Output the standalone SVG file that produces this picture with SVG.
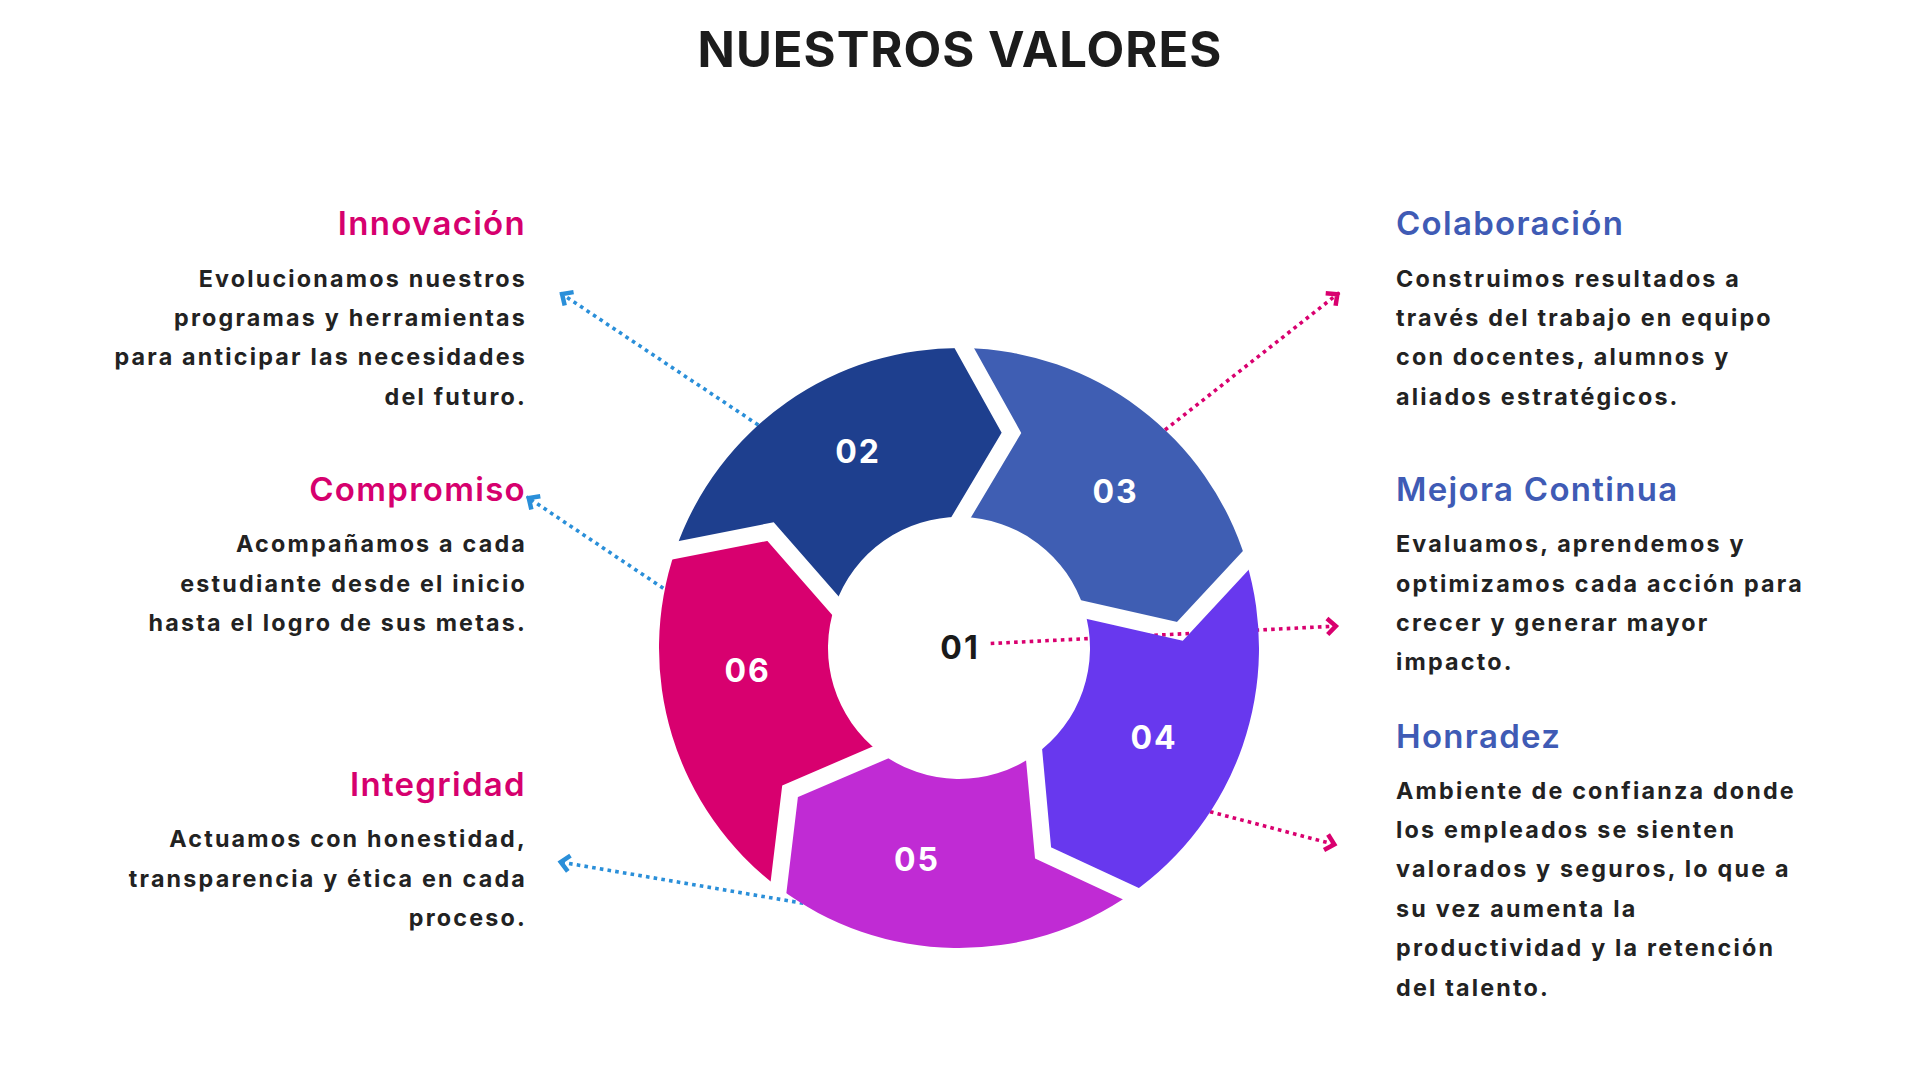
<svg xmlns="http://www.w3.org/2000/svg" width="1920" height="1080" viewBox="0 0 1920 1080">
<defs>
<style>
.t{font-family:Inter,"Noto Sans","Liberation Sans",sans-serif}
.title{font-size:49px;font-weight:700;fill:#1c1c1c;letter-spacing:1px}
.h{font-size:33px;font-weight:600;letter-spacing:1.3px}
.b{font-size:23.3px;font-weight:700;fill:#222222;letter-spacing:2.2px}
.pk{fill:#D6006E}
.bl{fill:#3F5BB5}
.end{text-anchor:end}
.n{font-size:32px;font-weight:700;fill:#ffffff;text-anchor:middle;letter-spacing:2px}
.c{fill:none;stroke-width:3.6;stroke-dasharray:3.6 4.2}
.cb{stroke:#2A8FD9;marker-end:url(#ab)}
.cp{stroke:#D9006F;marker-end:url(#ap)}
.ah{fill:none;stroke-width:4.5;stroke-linejoin:miter;stroke-linecap:butt}
</style>
<marker id="ab" markerUnits="userSpaceOnUse" viewBox="-15 -15 30 30" markerWidth="30" markerHeight="30" refX="0" refY="0" orient="auto">
<path class="ah" stroke="#2A8FD9" d="M-11,-8 L-2.5,0 L-11,8"/>
</marker>
<marker id="ap" markerUnits="userSpaceOnUse" viewBox="-15 -15 30 30" markerWidth="30" markerHeight="30" refX="0" refY="0" orient="auto">
<path class="ah" stroke="#D9006F" d="M-11,-8 L-2.5,0 L-11,8"/>
</marker>
<mask id="gap" maskUnits="userSpaceOnUse" x="0" y="0" width="1920" height="1080">
<rect x="0" y="0" width="1920" height="1080" fill="#ffffff"/>
<g fill="none" stroke="#000000" stroke-width="17" stroke-linejoin="miter" stroke-miterlimit="10">
<polyline points="651.55,555.0 770.55,531.6 860.98,634.85"/>
<polyline points="952.44,326.87 1011.45,432.79 941.23,550.71"/>
<polyline points="1262.39,542.52 1179.88,631.39 1046.04,601.02"/>
<polyline points="1153.07,903.96 1043.06,852.93 1030.57,716.26"/>
<polyline points="775.56,911.67 790.06,791.27 916.2,737.16"/>
</g>
</mask>
</defs>
<rect x="0" y="0" width="1920" height="1080" fill="#ffffff"/>
<text class="t title" x="960" y="66.7" text-anchor="middle">NUESTROS VALORES</text>

<g id="connectors">
<line class="c cb" x1="758.3" y1="425" x2="560" y2="292.7"/>
<line class="c cb" x1="663.3" y1="588.3" x2="526.7" y2="496.7"/>
<line class="c cb" x1="803.3" y1="903.3" x2="558.3" y2="861.7"/>
<line class="c cp" x1="1165" y1="430" x2="1339.3" y2="292.7"/>
<line class="c cp" x1="990.7" y1="643.5" x2="1338.3" y2="626"/>
<line class="c cp" x1="1210" y1="811.7" x2="1336.7" y2="845"/>
</g>

<g id="node-02">
<path mask="url(#gap)" fill="#1E3F8E" d="M675.35,550.32 A300,300 0 0 1 964.24,348.05 L1011.45,432.79 L961.29,517.02 A131,131 0 0 0 835.14,605.35 L770.55,531.6 Z"/>
<text class="t n" x="858" y="463.3">02</text>
</g>
<g id="node-03">
<path mask="url(#gap)" fill="#3F5EB3" d="M964.24,348.05 A300,300 0 0 1 1245.89,560.29 L1179.88,631.39 L1084.28,609.7 A131,131 0 0 0 961.29,517.02 L1011.45,432.79 Z"/>
<text class="t n" x="1115.5" y="502.7">03</text>
</g>
<g id="node-04">
<path mask="url(#gap)" fill="#6838EE" d="M1245.89,560.29 A300,300 0 0 1 1131.07,893.75 L1043.06,852.93 L1034.14,755.31 A131,131 0 0 0 1084.28,609.7 L1179.88,631.39 Z"/>
<text class="t n" x="1154" y="749.3">04</text>
</g>
<g id="node-05">
<path mask="url(#gap)" fill="#C02BD4" d="M1131.07,893.75 A300,300 0 0 1 778.46,887.59 L790.06,791.27 L880.16,752.62 A131,131 0 0 0 1034.14,755.31 L1043.06,852.93 Z"/>
<text class="t n" x="917" y="870.7">05</text>
</g>
<g id="node-06">
<path mask="url(#gap)" fill="#D8006F" d="M778.46,887.59 A300,300 0 0 1 675.35,550.32 L770.55,531.6 L835.14,605.35 A131,131 0 0 0 880.16,752.62 L790.06,791.27 Z"/>
<text class="t n" x="747.7" y="681.7">06</text>
</g>
<g id="node-01">
<text class="t n" x="960" y="658.5" style="fill:#1a1a1a">01</text>
</g>

<g id="innovacion">
<text class="t h pk end" x="526" y="235">Innovación</text>
<text class="t b end" x="527" y="286.7">Evolucionamos nuestros</text>
<text class="t b end" x="527" y="326">programas y herramientas</text>
<text class="t b end" x="527" y="365.3">para anticipar las necesidades</text>
<text class="t b end" x="527" y="404.6">del futuro.</text>
</g>
<g id="compromiso">
<text class="t h pk end" x="526" y="500.7">Compromiso</text>
<text class="t b end" x="527" y="552.4">Acompañamos a cada</text>
<text class="t b end" x="527" y="591.7">estudiante desde el inicio</text>
<text class="t b end" x="527" y="631">hasta el logro de sus metas.</text>
</g>
<g id="integridad">
<text class="t h pk end" x="526" y="795.8">Integridad</text>
<text class="t b end" x="527" y="847.4">Actuamos con honestidad,</text>
<text class="t b end" x="527" y="886.7">transparencia y ética en cada</text>
<text class="t b end" x="527" y="926">proceso.</text>
</g>
<g id="colaboracion">
<text class="t h bl" x="1396" y="235">Colaboración</text>
<text class="t b" x="1396" y="286.7">Construimos resultados a</text>
<text class="t b" x="1396" y="326">través del trabajo en equipo</text>
<text class="t b" x="1396" y="365.3">con docentes, alumnos y</text>
<text class="t b" x="1396" y="404.6">aliados estratégicos.</text>
</g>
<g id="mejora-continua">
<text class="t h bl" x="1396" y="500.7">Mejora Continua</text>
<text class="t b" x="1396" y="552.4">Evaluamos, aprendemos y</text>
<text class="t b" x="1396" y="591.7">optimizamos cada acción para</text>
<text class="t b" x="1396" y="631">crecer y generar mayor</text>
<text class="t b" x="1396" y="670.3">impacto.</text>
</g>
<g id="honradez">
<text class="t h bl" x="1396" y="748">Honradez</text>
<text class="t b" x="1396" y="798.6">Ambiente de confianza donde</text>
<text class="t b" x="1396" y="838">los empleados se sienten</text>
<text class="t b" x="1396" y="877.4">valorados y seguros, lo que a</text>
<text class="t b" x="1396" y="916.8">su vez aumenta la</text>
<text class="t b" x="1396" y="956.2">productividad y la retención</text>
<text class="t b" x="1396" y="995.6">del talento.</text>
</g>
</svg>
